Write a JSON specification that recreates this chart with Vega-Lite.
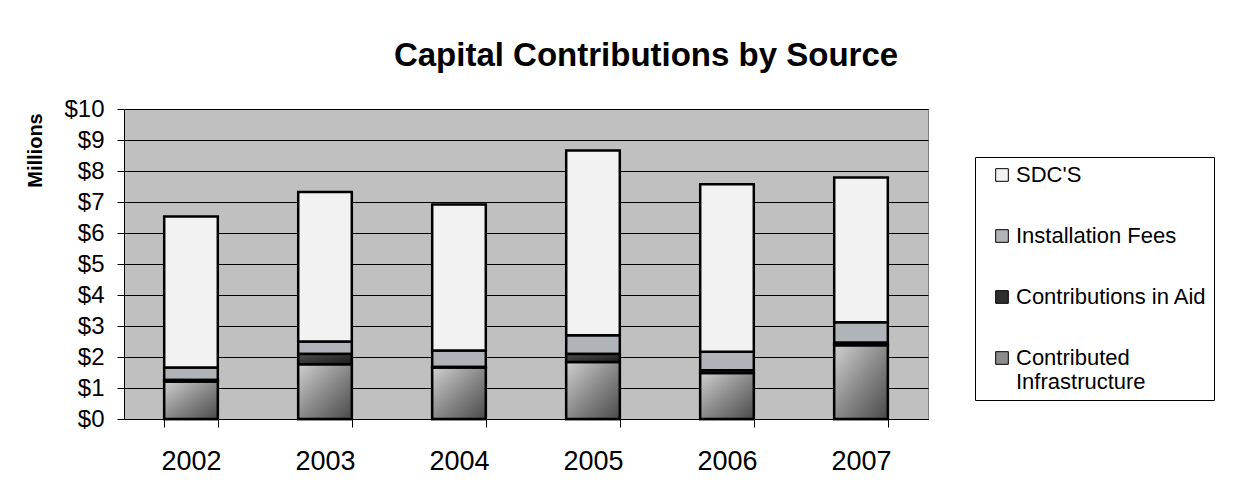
{
  "$schema": "https://vega.github.io/schema/vega-lite/v6.json",
  "width": 804,
  "height": 310,
  "autosize": {"type": "none"},
  "padding": {"left": 124, "top": 109, "right": 323, "bottom": 74},
  "background": "white",
  "title": {
    "text": "Capital Contributions by Source",
    "font": "Liberation Sans",
    "fontSize": 33,
    "fontWeight": "bold",
    "color": "black",
    "anchor": "middle",
    "frame": "group",
    "dx": 120,
    "offset": 24
  },
  "config": {
    "font": "Liberation Sans",
    "view": {"fill": "#C0C0C0", "stroke": "#808080", "strokeWidth": 1}
  },
  "data": {
    "values": [
      {"year": "2002", "source": "Contributed Infrastructure", "value": 1.21},
      {"year": "2002", "source": "Contributions in Aid", "value": 0.05},
      {"year": "2002", "source": "Installation Fees", "value": 0.40},
      {"year": "2002", "source": "SDC'S", "value": 4.87},
      {"year": "2003", "source": "Contributed Infrastructure", "value": 1.77},
      {"year": "2003", "source": "Contributions in Aid", "value": 0.33},
      {"year": "2003", "source": "Installation Fees", "value": 0.40},
      {"year": "2003", "source": "SDC'S", "value": 4.82},
      {"year": "2004", "source": "Contributed Infrastructure", "value": 1.66},
      {"year": "2004", "source": "Contributions in Aid", "value": 0.02},
      {"year": "2004", "source": "Installation Fees", "value": 0.53},
      {"year": "2004", "source": "SDC'S", "value": 4.71},
      {"year": "2005", "source": "Contributed Infrastructure", "value": 1.84},
      {"year": "2005", "source": "Contributions in Aid", "value": 0.26},
      {"year": "2005", "source": "Installation Fees", "value": 0.60},
      {"year": "2005", "source": "SDC'S", "value": 5.96},
      {"year": "2006", "source": "Contributed Infrastructure", "value": 1.48},
      {"year": "2006", "source": "Contributions in Aid", "value": 0.09},
      {"year": "2006", "source": "Installation Fees", "value": 0.60},
      {"year": "2006", "source": "SDC'S", "value": 5.40},
      {"year": "2007", "source": "Contributed Infrastructure", "value": 2.38},
      {"year": "2007", "source": "Contributions in Aid", "value": 0.08},
      {"year": "2007", "source": "Installation Fees", "value": 0.66},
      {"year": "2007", "source": "SDC'S", "value": 4.67}
    ]
  },
  "transform": [
    {
      "stack": "value",
      "groupby": ["year"],
      "sort": [{"field": "source", "order": "ascending"}],
      "as": ["v0", "v1"]
    }
  ],
  "encoding": {
    "x": {
      "field": "year",
      "type": "nominal",
      "title": null,
      "scale": {"paddingInner": 0.6, "paddingOuter": 0.3},
      "axis": {
        "labelAngle": 0,
        "labelFontSize": 27,
        "labelColor": "black",
        "labelPadding": 21,
        "tickBand": "extent",
        "tickSize": 8,
        "tickColor": "black",
        "domainColor": "black",
        "domainWidth": 1
      }
    },
    "y": {
      "field": "v1",
      "type": "quantitative",
      "scale": {"domain": [0, 10], "nice": false},
      "title": "Millions",
      "axis": {
        "values": [0, 1, 2, 3, 4, 5, 6, 7, 8, 9, 10],
        "format": "$.0f",
        "labelFontSize": 24,
        "labelColor": "black",
        "labelPadding": 13,
        "tickSize": 7,
        "tickColor": "black",
        "domainColor": "black",
        "grid": true,
        "gridColor": "black",
        "gridWidth": 1,
        "gridOpacity": 1,
        "titleFontSize": 20,
        "titleFontWeight": "bold",
        "titleColor": "black",
        "titleX": -79,
        "titleY": 41
      }
    },
    "y2": {"field": "v0"}
  },
  "layer": [
    {
      "mark": {"type": "bar", "stroke": "black", "strokeWidth": 2.5, "fillOpacity": 1},
      "encoding": {
        "color": {
          "field": "source",
          "type": "nominal",
          "scale": {
            "domain": ["SDC'S", "Installation Fees", "Contributions in Aid", "Contributed Infrastructure"],
            "range": ["#F2F2F2", "#B0B4B9", "#2E2E2E", "#8C8C8C"]
          },
          "legend": {
            "title": null,
            "orient": "none",
            "legendX": 851,
            "legendY": 48,
            "padding": 7,
            "fillColor": "white",
            "strokeColor": "black",
            "labelFontSize": 22,
            "labelColor": "black",
            "labelLimit": 400,
            "labelOffset": 3,
            "symbolOffset": 9,
            "symbolType": "square",
            "symbolSize": 160,
            "symbolStrokeColor": "black",
            "symbolStrokeWidth": 1,
            "symbolOpacity": 1,
            "rowPadding": 39,
            "labelExpr": "datum.label == 'Contributed Infrastructure' ? ['Contributed', 'Infrastructure'] : datum.label == 'Contributions in Aid' ? 'Contributions in Aid\u00a0\u00a0' : datum.label"
          }
        }
      }
    },
    {
      "transform": [{"filter": "datum.source == 'Contributed Infrastructure'"}],
      "mark": {
        "type": "bar",
        "stroke": "black",
        "strokeWidth": 2.5,
        "fill": {
          "gradient": "linear",
          "x1": 0, "y1": 0, "x2": 1, "y2": 1,
          "stops": [
            {"offset": 0, "color": "#D0D0D0"},
            {"offset": 0.5, "color": "#8A8A8A"},
            {"offset": 1, "color": "#4A4A4A"}
          ]
        }
      }
    },
    {
      "transform": [{"filter": "datum.source == 'Contributions in Aid'"}],
      "mark": {
        "type": "bar",
        "stroke": "black",
        "strokeWidth": 2.5,
        "fill": {
          "gradient": "linear",
          "x1": 0, "y1": 0, "x2": 1, "y2": 1,
          "stops": [
            {"offset": 0, "color": "#505050"},
            {"offset": 1, "color": "#1A1A1A"}
          ]
        }
      }
    }
  ]
}
